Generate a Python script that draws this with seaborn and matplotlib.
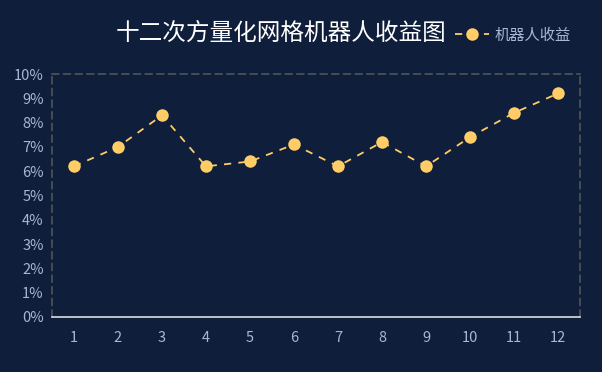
import matplotlib
matplotlib.use("Agg")
import matplotlib.pyplot as plt
import seaborn as sns
import pandas as pd

# data
rounds = [1, 2, 3, 4, 5, 6, 7, 8, 9, 10, 11, 12]
profit = [6.2, 7.0, 8.3, 6.2, 6.4, 7.1, 6.2, 7.2, 6.2, 7.4, 8.4, 9.2]
y_ticks = [0, 1, 2, 3, 4, 5, 6, 7, 8, 9, 10]

title = "十二次方量化网格机器人收益图"
series_name = "机器人收益"

bg = "#0f1e3a"
gold = "#ffcc66"
tick_col = "#a9b8cf"

sns.set_style("dark")
plt.rcParams["font.family"] = ["Noto Sans CJK SC", "DejaVu Sans"]

df = pd.DataFrame({"round": [str(r) for r in rounds], "profit": profit})

fig = plt.figure(figsize=(6.02, 3.72), dpi=100, facecolor=bg)
ax = fig.add_axes([52 / 602, 1 - 317 / 372, 528 / 602, 243 / 372])
ax.set_facecolor(bg)

sns.lineplot(data=df, x="round", y="profit", ax=ax, color=gold, marker="o",
             markersize=9, markeredgewidth=0, linewidth=1.3, linestyle="--",
             dashes=False, label=series_name, sort=False)
for l in ax.lines:
    l.set_linestyle((0, (4, 4)))

ax.set_xlim(-0.5, len(rounds) - 0.5)
ax.set_ylim(0, 10)
ax.set_yticks(y_ticks)
ax.set_yticklabels([f"{v}%" for v in y_ticks])
ax.set_xlabel("")
ax.set_ylabel("")
ax.grid(False)
ax.tick_params(length=0, colors=tick_col, labelsize=10.5, pad=6)
ax.tick_params(axis="x", pad=10)

for side in ["top", "left", "right"]:
    ax.spines[side].set_visible(True)
    ax.spines[side].set_color("#50545a")
    ax.spines[side].set_linestyle((0, (4, 3)))
    ax.spines[side].set_linewidth(1.2)
ax.spines["bottom"].set_color("#dddddd")
ax.spines["bottom"].set_linewidth(1.2)

fig.text(281 / 602, 1 - 33 / 372, title, color="white", fontsize=17,
         ha="center", va="center")

leg = ax.legend(loc="center left", bbox_to_anchor=(449 / 602, 1 - 35 / 372),
                bbox_transform=fig.transFigure, frameon=False, fontsize=11,
                handlelength=2.2, handletextpad=0.4, borderaxespad=0)
for t in leg.get_texts():
    t.set_color(tick_col)

fig.savefig("out.png", dpi=100, facecolor=bg)
